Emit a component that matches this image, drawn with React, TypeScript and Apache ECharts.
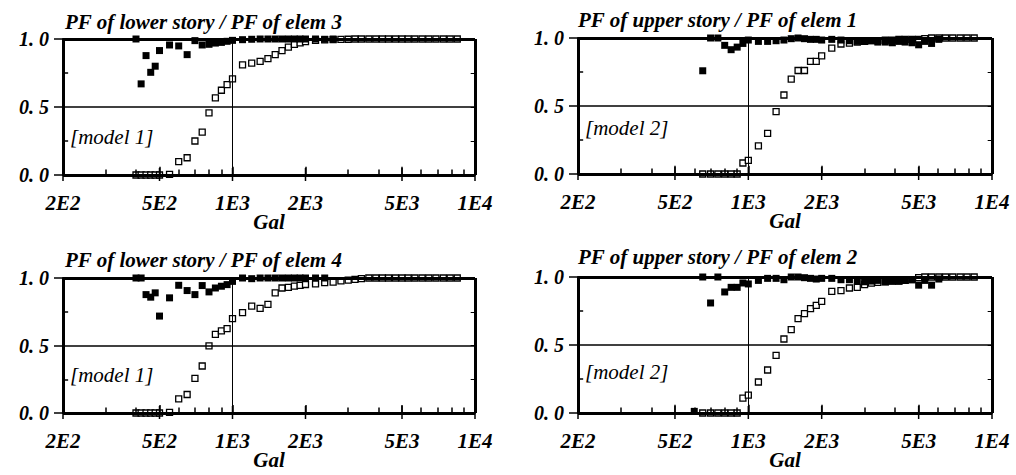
import React, { useEffect, useRef } from "react";
import * as echarts from "echarts";

const FONT = "Liberation Serif, Times New Roman, serif";

// x-axis ticks (Gal) and labelled ticks
const minorTickGal = [300, 400, 600, 700, 800, 900, 3000, 4000, 6000, 7000, 8000, 9000];
const labelGal = [200, 500, 1000, 2000, 5000, 10000];
const innerMajorGal = [500, 1000, 2000, 5000];
const labelText: Record<number, string> = { 200: "2E2", 500: "5E2", 1000: "1E3", 2000: "2E3", 5000: "5E3", 10000: "1E4" };
const yTickText: Record<string, string> = { "0": "0. 0", "0.5": "0. 5", "1": "1. 0" };
const yMinorTicks = [0.25, 0.75];
const yRightTicks = [0.25, 0.5, 0.75];

// shared upper range of excitation levels (Gal)
const galHigh = [2200, 2400, 2600, 2800, 3000, 3200, 3400, 3650, 3900, 4150, 4400, 4700, 5000, 5300, 5650, 6050, 6450, 6900, 7400, 7900, 8450];

// Panel 1: lower story / elem 3 (model 1)
const p1Gal = [400, 420, 440, 460, 480, 500, 550, 600, 650, 700, 750, 800, 850, 900, 950, 1000, 1100, 1200, 1300, 1400, 1500, 1600, 1700, 1800, 1900, 2000, ...galHigh];
const p1Story = [1.0, 0.67, 0.878, 0.755, 0.80, 0.915, 0.956, 0.949, 0.885, 0.988, 0.956, 0.961, 0.97, 0.975, 0.983, 0.99, 0.995, 0.998, 1, 1, 1, 1, 1, 1, 1, 1,
  1, 0.998, 1, null, null, null, null, null, null, null, null, null, null, null, null, null, null, null, null, null, null];
const p1Elem = [0, 0, 0, 0, 0, 0, 0.005, 0.098, 0.127, 0.25, 0.315, 0.457, 0.567, 0.623, 0.665, 0.707, 0.81, 0.823, 0.835, 0.855, 0.885, 0.915, 0.94, 0.96, 0.972, 0.98,
  0.99, 0.993, 0.995, 0.997, 0.998, 1, 1, 1, 1, 1, 1, 1, 1, 1, 1, 1, 1, 1, 1, 1, 1];

// Panel 2: upper story / elem 1 (model 2)
const p2Gal = [650, 700, 750, 800, 850, 900, 950, 1000, 1100, 1200, 1300, 1400, 1500, 1600, 1700, 1800, 1900, 2000, ...galHigh];
const p2Story = [0.759, 1.0, 1.0, 0.946, 0.914, 0.933, 0.96, 0.985, 0.975, 0.975, 0.98, 0.985, 0.995, 1.0, 0.995, 0.99, 0.99, 0.985,
  0.99, 0.985, 0.98, 0.975, 0.975, 0.98, 0.97, 0.97, 0.965, 0.975, 0.97, 0.965, 0.95, 0.975, 0.96, 0.99, null, null, null, null, null];
const p2Elem = [0, 0, 0, 0, 0, 0, 0.081, 0.10, 0.207, 0.298, 0.458, 0.581, 0.697, 0.761, 0.761, 0.828, 0.828, 0.869,
  0.926, 0.956, 0.963, 0.97, 0.975, 0.98, 0.98, 0.985, 0.985, 0.99, 0.99, 0.99, 0.99, 0.995, 1, 1, 1, 1, 1, 1, 1];

// Panel 3: lower story / elem 4 (model 1)
const p3Gal = [400, 420, 440, 460, 480, 500, 550, 600, 650, 700, 750, 800, 850, 900, 950, 1000, 1100, 1200, 1300, 1400, 1500, 1600, 1700, 1800, 1900, 2000, ...galHigh];
const p3Story = [1.0, 1.0, 0.877, 0.858, 0.89, 0.718, 0.853, 0.946, 0.907, 0.877, 0.944, 0.897, 0.926, 0.939, 0.951, 0.975, 1.0, 0.995, 1, 1, 1, 1, 1, 1, 1, 1,
  1, 1, null, null, null, null, null, null, null, null, null, null, null, null, null, null, null, null, null, null, null];
const p3Elem = [0, 0, 0, 0, 0, 0, 0.005, 0.105, 0.137, 0.257, 0.348, 0.4975, 0.583, 0.608, 0.625, 0.699, 0.743, 0.792, 0.775, 0.804, 0.89, 0.926, 0.931, 0.94, 0.946, 0.952,
  0.956, 0.966, 0.97, 0.978, 0.985, 0.99, 0.995, 1, 1, 1, 1, 1, 1, 1, 1, 1, 1, 1, 1, 1, 1];

// Panel 4: upper story / elem 2 (model 2)
const p4Gal = [600, 650, 700, 750, 800, 850, 900, 950, 1000, 1100, 1200, 1300, 1400, 1500, 1600, 1700, 1800, 1900, 2000, ...galHigh];
const p4Story = [0.012, 1.0, 0.809, 1.0, 0.89, 0.924, 0.924, 0.956, 0.949, 0.975, 0.99, 0.99, 0.98, 1.0, 1.0, 0.995, 0.99, 0.985, 0.99,
  0.99, 0.98, 0.98, 0.97, 0.965, 0.97, 0.975, 0.965, 0.97, 0.97, 0.975, 0.98, 0.94, 0.975, 0.94, 0.985, null, null, null, null, null];
const p4Elem = [null, 0, 0, 0, 0, 0, 0, 0.11, 0.132, 0.228, 0.316, 0.424, 0.544, 0.613, 0.694, 0.73, 0.767, 0.792, 0.821,
  0.895, 0.90, 0.919, 0.924, 0.944, 0.955, 0.96, 0.965, 0.97, 0.97, 0.975, 0.98, 0.995, 1, 1, 1, 1, 1, 1, 1, 1];

const titles = [
  "PF of lower story / PF of elem 3",
  "PF of upper story / PF of elem 1",
  "PF of lower story / PF of elem 4",
  "PF of upper story / PF of elem 2",
];
const models = ["[model 1]", "[model 2]", "[model 1]", "[model 2]"];

const panelData = [
  { gal: p1Gal, story: p1Story, elem: p1Elem },
  { gal: p2Gal, story: p2Story, elem: p2Elem },
  { gal: p3Gal, story: p3Story, elem: p3Elem },
  { gal: p4Gal, story: p4Story, elem: p4Elem },
];

// layout (pixels): each panel is its own chart instance
const PW = 508;
const PH = 237;
const boxes = [
  { x: 0, y: 0 },
  { x: 508, y: 0 },
  { x: 0, y: 238 },
  { x: 508, y: 238 },
];
const grids = [
  { left: 63, top: 39, width: 412, height: 137 },
  { left: 70, top: 38, width: 414, height: 136 },
  { left: 63, top: 40, width: 412, height: 136 },
  { left: 70, top: 39, width: 414, height: 136 },
];
const titlePos = [[65, 22], [70, 20], [65, 22], [70, 19]];
const modelPos = [[70, 137], [77, 128], [70, 137], [77, 134]];

function pairs(gal: number[], vals: (number | null)[]) {
  const out: number[][] = [];
  gal.forEach((g, i) => {
    const v = vals[i];
    if (v !== null && v !== undefined) out.push([g, v]);
  });
  return out;
}

function frameLines(): any[] {
  const thin = { color: "#000", width: 1.5, type: "solid" };
  const thick = { color: "#000", width: 3, type: "solid" };
  const out: any[] = [
    { yAxis: 0.5, lineStyle: { color: "#000", width: 1.5, type: "solid" } },
    { xAxis: 1000, lineStyle: { color: "#000", width: 1, type: "solid" } },
    { yAxis: 1, lineStyle: thick },
    { yAxis: 0, lineStyle: thick },
    { xAxis: 200, lineStyle: thick },
    { xAxis: 10000, lineStyle: thick },
  ];
  minorTickGal.forEach((v) => out.push([{ coord: [v, 0], lineStyle: thin }, { coord: [v, 0.04] }]));
  innerMajorGal.forEach((v) => out.push([{ coord: [v, 0], lineStyle: thin }, { coord: [v, 0.06] }]));
  yMinorTicks.forEach((y) => out.push([{ coord: [200, y], lineStyle: thin }, { coord: [210, y] }]));
  yRightTicks.forEach((y) => out.push([{ coord: [10000, y], lineStyle: { color: "#000", width: 1, type: "solid" } }, { coord: [9600, y] }]));
  return out;
}

function makeOption(i: number): any {
  const black = { color: "#000", width: 2 };
  const labelStyle = { fontFamily: FONT, fontStyle: "italic", fontWeight: "bold", color: "#000" };
  const g = grids[i];
  const d = panelData[i];
  return {
    animation: false,
    backgroundColor: "#fff",
    textStyle: { fontFamily: FONT },
    grid: { left: g.left, top: g.top, right: PW - g.left - g.width, bottom: PH - g.top - g.height },
    xAxis: [
      {
        type: "log", logBase: 10, min: 200, max: 10000, position: "bottom",
        axisLine: { show: true, onZero: false, lineStyle: black },
        axisTick: { show: false }, axisLabel: { show: false }, splitLine: { show: false },
        name: "Gal", nameLocation: "middle", nameGap: 36,
        nameTextStyle: { fontSize: 21, ...labelStyle },
      },
    ],
    yAxis: [
      {
        type: "value", min: 0, max: 1, interval: 0.5, position: "left",
        axisLine: { show: true, onZero: false, lineStyle: black },
        axisTick: { show: true, length: 9, lineStyle: { color: "#000", width: 1.5 } },
        axisLabel: { margin: 14, fontSize: 20, ...labelStyle, formatter: (v: number) => yTickText[String(v)] ?? "" },
        splitLine: { show: false },
      },
    ],
    series: [
      {
        type: "scatter", symbol: "rect", symbolSize: 6, silent: true,
        itemStyle: { color: "#fff", borderColor: "#000", borderWidth: 1.3, opacity: 1 },
        data: pairs(d.gal, d.elem),
        markLine: {
          silent: true, symbol: ["none", "none"], label: { show: false },
          lineStyle: { color: "#000", width: 1.5, type: "solid" },
          data: frameLines(),
        },
      },
      {
        type: "scatter", symbol: "rect", symbolSize: 7, silent: true,
        itemStyle: { color: "#000", opacity: 1 },
        data: pairs(d.gal, d.story),
      },
      // x tick labels placed through the log axis
      {
        type: "scatter", symbol: "rect", symbolSize: [1.5, 13], symbolOffset: [0, -0.5], silent: true, clip: false,
        itemStyle: { color: "#000", opacity: 1 },
        data: labelGal.map((v) => [v, 0]),
        label: {
          show: true, position: "bottom", distance: 11, fontSize: 21, ...labelStyle,
          formatter: (p: any) => labelText[p.value[0]] || "",
        },
      },
    ],
    graphic: [
      {
        type: "text", x: titlePos[i][0], y: titlePos[i][1],
        style: { text: titles[i], fontFamily: FONT, fontStyle: "italic", fontWeight: "bold", fontSize: 21, fill: "#000", verticalAlign: "middle", align: "left" },
      },
      {
        type: "text", x: modelPos[i][0], y: modelPos[i][1],
        style: { text: models[i], fontFamily: FONT, fontStyle: "italic", fontWeight: "normal", fontSize: 21, fill: "#000", verticalAlign: "middle", align: "left" },
      },
    ],
  };
}

function Panel({ index }: { index: number }) {
  const ref = useRef<HTMLDivElement>(null);
  useEffect(() => {
    if (!ref.current) return;
    const chart = echarts.init(ref.current, undefined, { renderer: "svg" });
    chart.setOption(makeOption(index));
    return () => chart.dispose();
  }, [index]);
  const b = boxes[index];
  return <div ref={ref} style={{ position: "absolute", left: b.x, top: b.y, width: PW, height: PH }} />;
}

export default function App() {
  return (
    <div style={{ position: "fixed", left: 0, top: 0, width: 1016, height: 475, background: "#fff" }}>
      {[0, 1, 2, 3].map((i) => <Panel key={i} index={i} />)}
    </div>
  );
}
